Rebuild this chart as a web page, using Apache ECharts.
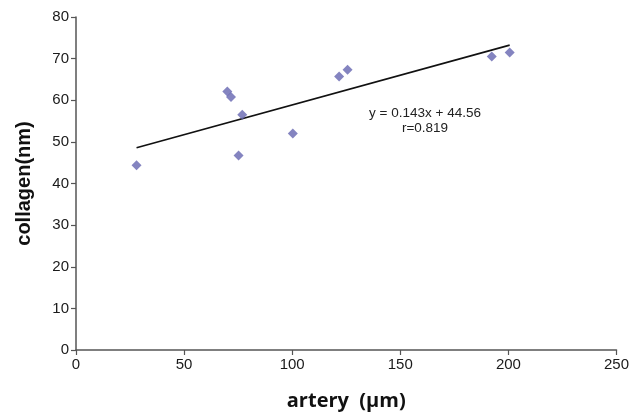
<!DOCTYPE html>
<html>
<head>
<meta charset="utf-8">
<script src="https://cdn.jsdelivr.net/npm/echarts@6/dist/echarts.min.js"></script>
<style>
  html, body { margin: 0; padding: 0; background: #fff; }
  #chart { width: 632px; height: 416px; }
</style>
</head>
<body>
<div id="chart"></div>
<script>
// artery diameter (um) vs collagen fibril (nm)
var arteryValues = [28, 70, 71.7, 76.9, 75.2, 100.3, 121.7, 125.6, 192.3, 200.6];
var collagenValues = [44.4, 62.1, 60.8, 56.5, 46.7, 52.0, 65.7, 67.3, 70.5, 71.5];
var trendSlope = 0.143;
var trendIntercept = 44.56;
var xTicks = [0, 50, 100, 150, 200, 250];
var yTicks = [0, 10, 20, 30, 40, 50, 60, 70, 80];

var points = arteryValues.map(function (x, i) {
  return [x, collagenValues[i]];
});
var xMin = Math.min.apply(null, arteryValues);
var xMax = Math.max.apply(null, arteryValues);
var trendLine = [
  [xMin, trendSlope * xMin + trendIntercept],
  [xMax, trendSlope * xMax + trendIntercept]
];

var axisStyle = {
  axisLine: { lineStyle: { color: "#555", width: 1.5 } },
  axisTick: { length: 5, lineStyle: { color: "#555", width: 1.2 } },
  axisLabel: { color: "#1a1a1a", fontSize: 15, fontFamily: "Liberation Sans", margin: 7 },
  splitLine: { show: false }
};

var myChart = echarts.init(document.getElementById("chart"));
myChart.setOption({
  animation: false,
  grid: { left: 76, right: 15, top: 17, bottom: 65 },
  xAxis: Object.assign({
    type: "value",
    min: xTicks[0],
    max: xTicks[xTicks.length - 1],
    interval: 50,
    name: "artery  (\u03bcm)",
    nameLocation: "middle",
    nameGap: 41,
    nameTextStyle: { color: "#111", fontSize: 20, fontWeight: "bold", fontFamily: "Open Sans" }
  }, axisStyle),
  yAxis: Object.assign({
    type: "value",
    min: yTicks[0],
    max: yTicks[yTicks.length - 1],
    interval: 10,
    name: "collagen(nm)",
    nameLocation: "middle",
    nameGap: 42,
    nameTextStyle: { color: "#111", fontSize: 20, fontWeight: "bold", fontFamily: "Liberation Sans" }
  }, axisStyle),
  series: [
    {
      type: "line",
      data: trendLine,
      symbol: "none",
      lineStyle: { color: "#111", width: 1.6 },
      z: 1
    },
    {
      type: "scatter",
      data: points,
      symbol: "diamond",
      symbolSize: 10,
      itemStyle: { color: "#6565b0" },
      z: 2
    }
  ],
  graphic: [
    {
      type: "text",
      x: 425,
      y: 113,
      style: {
        text: "y = 0.143x + 44.56",
        fill: "#222",
        font: "13.5px 'Liberation Sans'",
        textAlign: "center",
        textVerticalAlign: "middle"
      }
    },
    {
      type: "text",
      x: 425,
      y: 128,
      style: {
        text: "r=0.819",
        fill: "#222",
        font: "13.5px 'Liberation Sans'",
        textAlign: "center",
        textVerticalAlign: "middle"
      }
    }
  ]
});
</script>
</body>
</html>
